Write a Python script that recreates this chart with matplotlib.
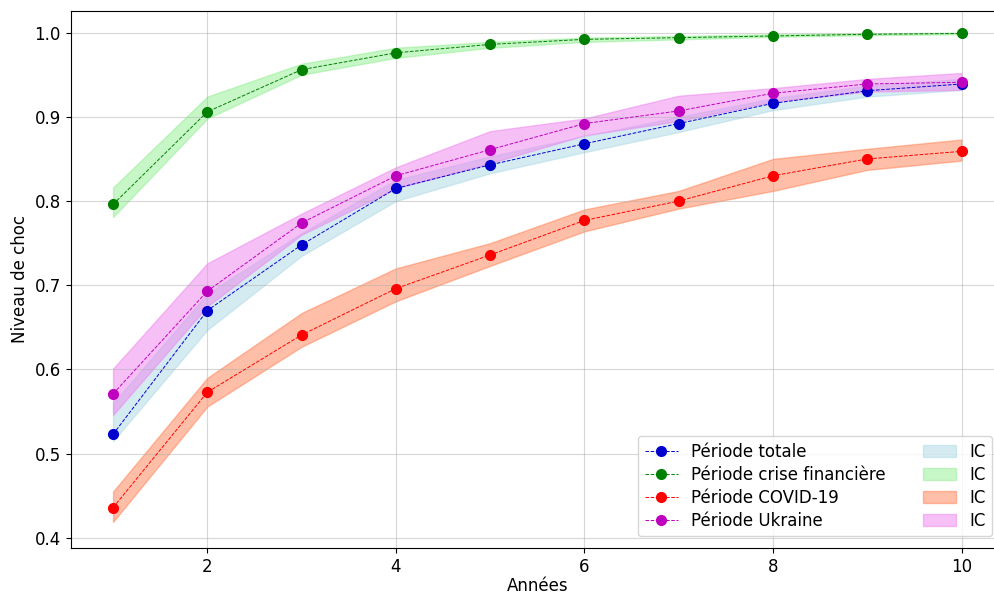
import matplotlib
matplotlib.use("Agg")
import matplotlib.pyplot as plt

annees = [1, 2, 3, 4, 5, 6, 7, 8, 9, 10]

# Niveau de choc moyen par période
totale = [0.523, 0.670, 0.748, 0.815, 0.843, 0.868, 0.892, 0.916, 0.931, 0.939]
crise_fin = [0.796, 0.906, 0.956, 0.976, 0.986, 0.992, 0.994, 0.996, 0.998, 0.999]
covid = [0.436, 0.573, 0.641, 0.696, 0.736, 0.777, 0.800, 0.830, 0.850, 0.859]
ukraine = [0.571, 0.693, 0.774, 0.830, 0.861, 0.892, 0.907, 0.928, 0.939, 0.941]

# Intervalles de confiance (bornes basse / haute)
totale_bas = [0.515, 0.647, 0.735, 0.800, 0.833, 0.858, 0.882, 0.908, 0.924, 0.932]
totale_haut = [0.560, 0.690, 0.762, 0.825, 0.853, 0.877, 0.900, 0.922, 0.937, 0.945]
crise_bas = [0.781, 0.898, 0.950, 0.970, 0.982, 0.989, 0.992, 0.995, 0.997, 0.998]
crise_haut = [0.816, 0.924, 0.963, 0.982, 0.989, 0.994, 0.996, 0.998, 0.999, 1.000]
covid_bas = [0.419, 0.556, 0.627, 0.681, 0.723, 0.764, 0.791, 0.812, 0.837, 0.848]
covid_haut = [0.455, 0.590, 0.667, 0.720, 0.750, 0.790, 0.812, 0.850, 0.862, 0.873]
ukraine_bas = [0.546, 0.675, 0.760, 0.815, 0.845, 0.878, 0.895, 0.918, 0.930, 0.932]
ukraine_haut = [0.601, 0.726, 0.785, 0.840, 0.883, 0.898, 0.925, 0.934, 0.945, 0.952]

series = [
    ("Période totale", totale, totale_bas, totale_haut, "mediumblue", "lightblue"),
    ("Période crise financière", crise_fin, crise_bas, crise_haut, "g", "lightgreen"),
    ("Période COVID-19", covid, covid_bas, covid_haut, "r", "coral"),
    ("Période Ukraine", ukraine, ukraine_bas, ukraine_haut, "m", "violet"),
]

fig = plt.figure(figsize=(9.95, 5.95), dpi=100)
# the plotting area runs slightly past the right edge of the canvas
ax = fig.add_axes([0.071, 0.079, 0.938, 0.903])

lignes, bandes = [], []
for label, moy, bas, haut, couleur, couleur_ic in series:
    (l,) = ax.plot(annees, moy, linestyle="--", linewidth=0.7, marker="o",
                   markersize=7, color=couleur, label=label)
    b = ax.fill_between(annees, bas, haut, color=couleur_ic, alpha=0.5, label="IC")
    lignes.append(l)
    bandes.append(b)

ax.set_ylim(0.388, 1.026)
ax.set_xlabel("Années", fontsize=12, labelpad=1)
ax.set_ylabel("Niveau de choc", fontsize=12)
ax.tick_params(labelsize=12)
ax.grid(True, alpha=0.5)
handles = lignes + bandes
ax.legend(handles, [h.get_label() for h in handles], loc="lower right",
          ncol=2, fontsize=12, columnspacing=2.2, labelspacing=0.3,
          borderaxespad=0.7)

fig.savefig("out.png", dpi=100)
